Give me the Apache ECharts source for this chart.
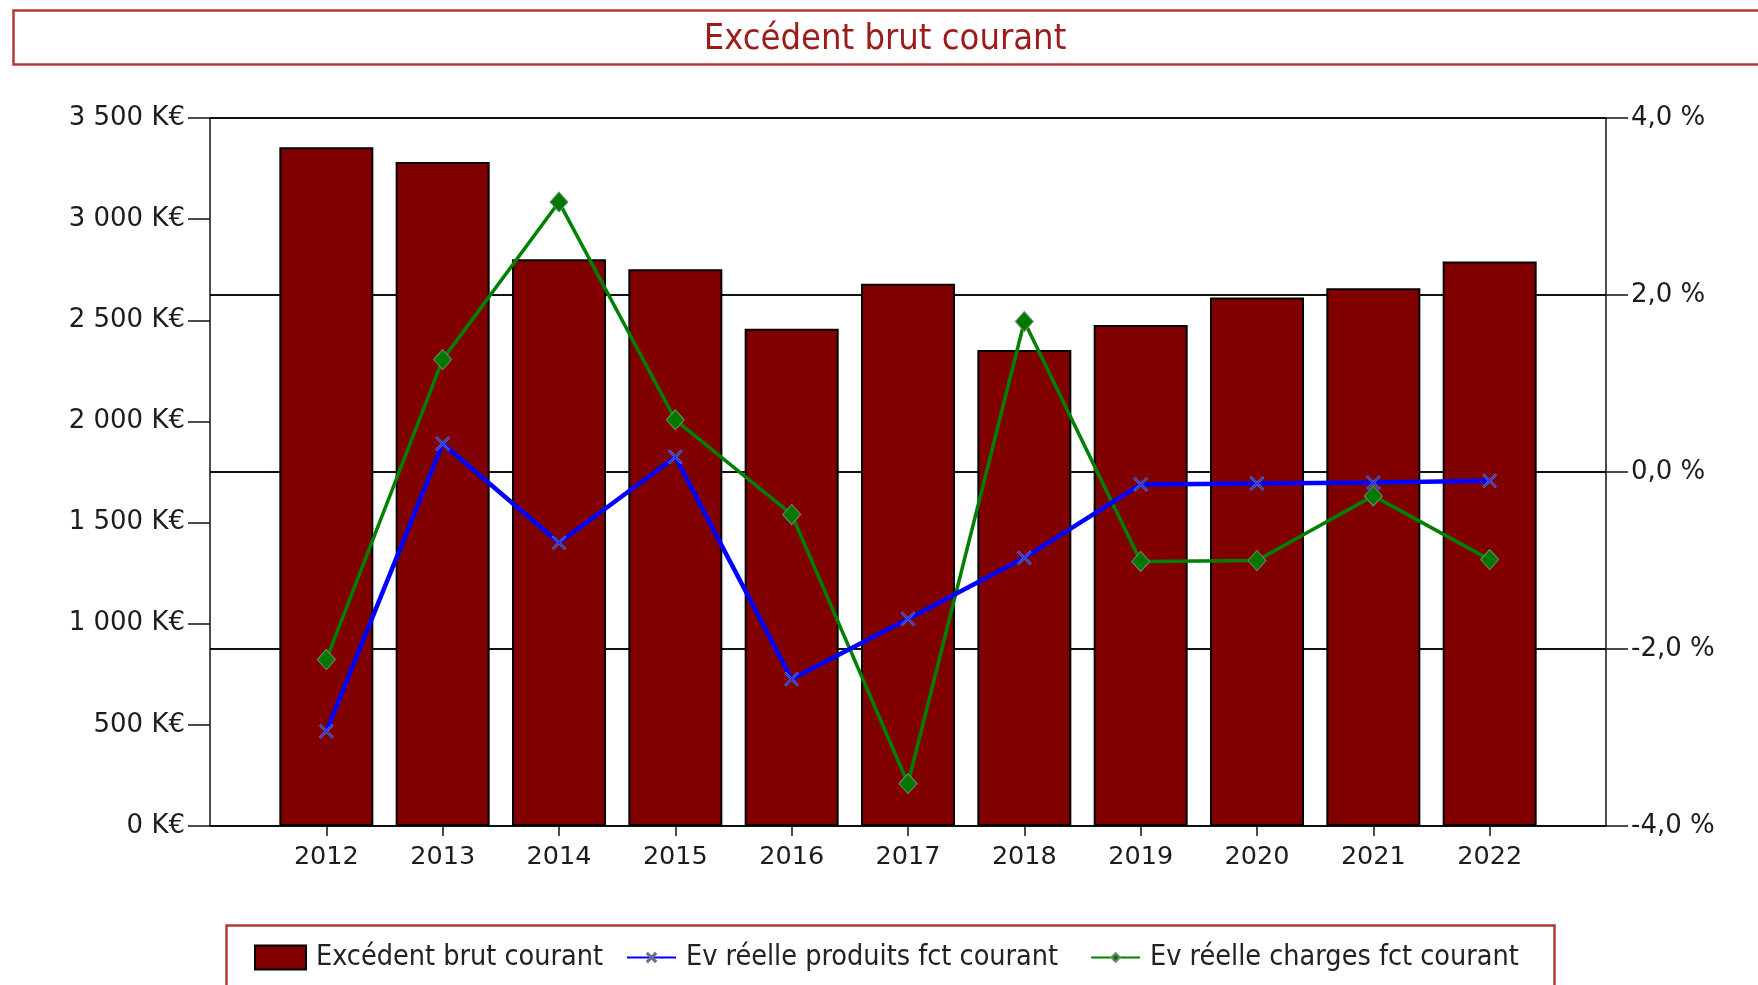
<!DOCTYPE html>
<html>
<head>
<meta charset="utf-8">
<title>Excédent brut courant</title>
<script src="https://cdn.jsdelivr.net/npm/echarts@6/dist/echarts.min.js"></script>
<style>
  html, body { margin: 0; padding: 0; background: #fff; }
  #main { width: 1758px; height: 985px; }
</style>
</head>
<body>
<div id="main"></div>
<script>
// données
var years = [2012, 2013, 2014, 2015, 2016, 2017, 2018, 2019, 2020, 2021, 2022];
var ebc = [3355, 3283, 2802, 2752, 2458, 2680, 2353, 2477, 2613, 2658, 2791];          // K€
var evProduits = [-2.93, 0.32, -0.80, 0.17, -2.34, -1.66, -0.97, -0.14, -0.13, -0.12, -0.10]; // %
var evCharges = [-2.12, 1.27, 3.05, 0.59, -0.48, -3.52, 1.70, -1.01, -1.00, -0.27, -0.99];   // %
var leftTicks = [0, 3500, 500];
var rightTicks = [-4, 4, 2];

var seriesNames = ['Excédent brut courant', 'Ev réelle produits fct courant', 'Ev réelle charges fct courant'];

function pairs(vals) {
    return years.map(function (y, i) { return [y, vals[i]]; });
}

var labelFont = 'DejaVu Sans';
var labelColor = '#1c1c1c';
var legendText = {
    fontFamily: '"DejaVu Sans Condensed", "DejaVu Sans"',
    fontSize: 28.5,
    color: '#222',
    padding: [0, 0, 0, 5]
};
var crossPath = 'path://M1,0 L5,4 L9,0 L10,1 L6,5 L10,9 L9,10 L5,6 L1,10 L0,9 L4,5 L0,1 Z';

var option = {
    animation: false,
    backgroundColor: '#ffffff',
    graphic: [
        {   // cadre du titre
            type: 'rect',
            shape: { x: 13.5, y: 10.5, width: 1760, height: 54 },
            style: { fill: '#fff', stroke: '#b03a3a', lineWidth: 2.5 },
            z: -1
        },
        {
            type: 'text',
            x: 885, y: 40,
            style: {
                text: 'Excédent brut courant',
                fill: '#9a1c1c',
                font: '36px "Liberation Sans Narrow", "DejaVu Sans Condensed", sans-serif',
                textAlign: 'center',
                textVerticalAlign: 'middle'
            }
        },
        {   // cadre de la légende
            type: 'rect',
            shape: { x: 226.5, y: 925.5, width: 1328, height: 80 },
            style: { fill: '#fff', stroke: '#b03a3a', lineWidth: 2.5 },
            z: -1
        }
    ],
    grid: { left: 210, right: 152, top: 118, bottom: 159 },
    legend: [
        {   // barre
            data: [{ name: seriesNames[0], icon: 'rect' }],
            left: 249,
            top: 938,
            itemWidth: 51,
            itemHeight: 24,
            textStyle: legendText
        },
        {   // courbes
            data: [seriesNames[1], seriesNames[2]],
            left: 621,
            top: 938,
            itemWidth: 49,
            itemHeight: 11,
            itemGap: 32,
            textStyle: legendText
        }
    ],
    xAxis: {
        type: 'value',
        min: 2011,
        max: 2023,
        interval: 1,
        axisLine: { lineStyle: { color: '#111', width: 1.5 } },
        axisTick: { customValues: years, length: 10, lineStyle: { color: '#111', width: 1.5 } },
        axisLabel: {
            customValues: years,
            formatter: function (v) { return String(v); },
            fontFamily: labelFont, fontSize: 25.5, color: labelColor, margin: 18
        },
        splitLine: { show: false }
    },
    yAxis: [
        {
            type: 'value',
            position: 'left',
            min: leftTicks[0], max: leftTicks[1], interval: leftTicks[2],
            axisLine: { show: true, lineStyle: { color: '#111', width: 1.5 } },
            axisTick: { show: true, length: 22, lineStyle: { color: '#111', width: 1.5 } },
            axisLabel: {
                formatter: function (v) {
                    return String(v).replace(/\B(?=(\d{3})+(?!\d))/g, ' ') + ' K€';
                },
                fontFamily: labelFont, fontSize: 26, color: labelColor, margin: 25
            },
            splitLine: { show: false }
        },
        {
            type: 'value',
            position: 'right',
            min: rightTicks[0], max: rightTicks[1], interval: rightTicks[2],
            axisLine: { show: true, lineStyle: { color: '#111', width: 1.5 } },
            axisTick: { show: true, length: 22, lineStyle: { color: '#111', width: 1.5 } },
            axisLabel: {
                formatter: function (v) { return v.toFixed(1).replace('.', ',') + ' %'; },
                fontFamily: labelFont, fontSize: 26, color: labelColor, margin: 25
            },
            splitLine: { show: true, lineStyle: { color: '#111', width: 1.8 } }
        }
    ],
    series: [
        {
            name: seriesNames[0],
            type: 'bar',
            yAxisIndex: 0,
            barWidth: 94,
            data: pairs(ebc),
            itemStyle: { color: '#800000', borderColor: '#000', borderWidth: 2 }
        },
        {
            name: seriesNames[1],
            type: 'line',
            yAxisIndex: 1,
            z: 4,
            data: pairs(evProduits),
            symbol: crossPath,
            symbolSize: 14,
            lineStyle: { color: '#0000ff', width: 4.5 },
            itemStyle: { color: '#1f33ff', borderColor: '#6c6c96', borderWidth: 1 }
        },
        {
            name: seriesNames[2],
            type: 'line',
            yAxisIndex: 1,
            z: 3,
            data: pairs(evCharges),
            symbol: 'diamond',
            symbolSize: [18, 20],
            lineStyle: { color: '#008000', width: 3.5 },
            itemStyle: { color: '#007800', borderColor: '#6f8f6f', borderWidth: 1 }
        }
    ]
};

var myChart = echarts.init(document.getElementById('main'));
myChart.setOption(option);
</script>
</body>
</html>
